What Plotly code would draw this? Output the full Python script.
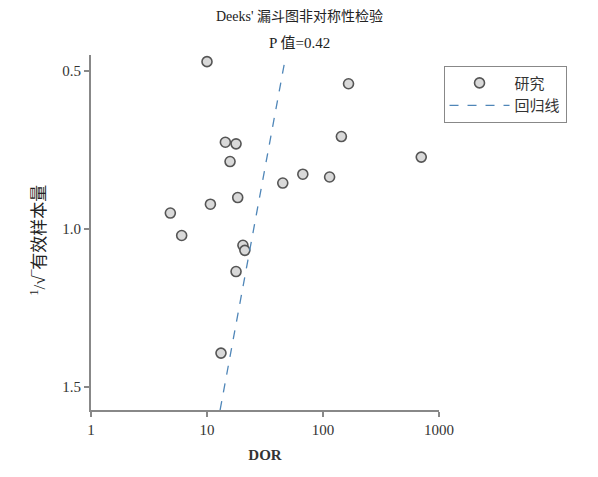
import plotly.graph_objects as go

# Study points: DOR and 1/sqrt(ESS)
study_dor = [10.0, 14.4, 17.8, 15.8, 4.83, 6.05, 10.7, 18.4, 20.4, 21.2, 17.8, 13.2, 8.15,
             166, 144, 703, 45.0, 67.0, 114]
study_y = [0.471, 0.726, 0.731, 0.787, 0.950, 1.021, 0.922, 0.901, 1.052, 1.068, 1.135, 1.393, 1.576,
           0.541, 0.708, 0.773, 0.855, 0.827, 0.836]

# Regression line endpoints
reg_dor = [12.97, 46.5]
reg_y = [1.573, 0.476]

x_ticks = [1, 10, 100, 1000]
y_ticks = [0.5, 1.0, 1.5]

title_line1 = "Deeks' 漏斗图非对称性检验"
title_line2 = "P 值=0.42"

serif = "Liberation Serif, Times New Roman, Noto Sans CJK SC, serif"

fig = go.Figure()
fig.add_trace(go.Scatter(
    x=study_dor, y=study_y, mode="markers", name="研究",
    marker=dict(symbol="circle", size=10, color="#d9d9d9",
                line=dict(color="#555555", width=1.6)),
    cliponaxis=False,
))
fig.add_trace(go.Scatter(
    x=reg_dor, y=reg_y, mode="lines", name="回归线",
    line=dict(color="#4f86b8", width=1.3, dash="dash"),
))

fig.update_layout(
    width=598, height=477,
    margin=dict(l=91, r=159, t=55, b=67),
    paper_bgcolor="white", plot_bgcolor="white",
    font=dict(family=serif, size=14, color="#333333"),
    showlegend=True,
    legend=dict(x=1.013, y=0.97, xanchor="left", yanchor="top",
                bordercolor="#888888", borderwidth=1,
                font=dict(family=serif, size=15, color="#333333"),
                itemwidth=60, tracegroupgap=8, valign="middle"),
    xaxis=dict(type="log", range=[0, 3], tickvals=x_ticks,
               ticktext=[str(v) for v in x_ticks],
               showgrid=False, zeroline=False, showline=True,
               linecolor="#888888", linewidth=2, ticks="outside",
               tickcolor="#888888", ticklen=5, tickwidth=1.5,
               tickfont=dict(family=serif, size=15, color="#333333"),
               title=dict(text="<b>DOR</b>", standoff=12,
                          font=dict(family=serif, size=15, color="#333333"))),
    yaxis=dict(range=[1.573, 0.45], tickvals=y_ticks,
               ticktext=["0.5", "1.0", "1.5"],
               showgrid=False, zeroline=False, showline=True,
               linecolor="#888888", linewidth=2, ticks="outside",
               tickcolor="#888888", ticklen=5, tickwidth=1.5,
               tickfont=dict(family=serif, size=15, color="#333333")),
)

fig.add_annotation(text=title_line1, xref="paper", yref="paper",
                   x=(299 - 91) / 348, y=(410 - 17) / 355, showarrow=False,
                   xanchor="center", yanchor="middle",
                   font=dict(family=serif, size=14, color="#222222"))
fig.add_annotation(text=title_line2, xref="paper", yref="paper",
                   x=(299 - 91) / 348, y=(410 - 43) / 355, showarrow=False,
                   xanchor="center", yanchor="middle",
                   font=dict(family=serif, size=15, color="#222222"))

fig.add_annotation(
    text="<sup>1</sup>/√‾有效样本量", xref="paper", yref="paper",
    x=-0.19, y=0.48, showarrow=False, textangle=-90,
    font=dict(family=serif, size=17, color="#222222"),
)

fig.write_html("out.html")
